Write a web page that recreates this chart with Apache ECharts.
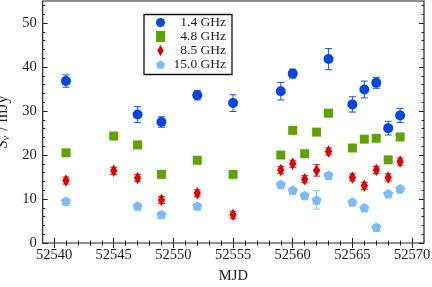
<!DOCTYPE html>
<html>
<head>
<meta charset="utf-8">
<script src="https://cdn.jsdelivr.net/npm/echarts@6/dist/echarts.min.js"></script>
<style>
html,body{margin:0;padding:0;background:#fff;}
#chart{width:432px;height:287px;}
</style>
</head>
<body>
<div id="chart"></div>
<script>
// ---- data ----
const seriesNames = ['1.4 GHz', '4.8 GHz', '8.5 GHz', '15.0 GHz'];

const mjd14 = [52541, 52547, 52549, 52552, 52555, 52559, 52560, 52563, 52565, 52566, 52567, 52568, 52569];
const flux14 = [36.8, 29.2, 27.5, 33.6, 31.8, 34.5, 38.5, 41.8, 31.5, 34.9, 36.4, 26.1, 29.0];
const err14 = [1.4, 1.8, 1.2, 1.1, 1.9, 2.0, 1.0, 2.4, 1.75, 1.9, 1.25, 1.55, 1.6];

const mjd48 = [52541, 52545, 52547, 52549, 52552, 52555, 52559, 52560, 52561, 52562, 52563, 52565, 52566, 52567, 52568, 52569];
const flux48 = [20.5, 24.3, 22.3, 15.6, 18.8, 15.6, 20.0, 25.6, 20.3, 25.2, 29.5, 21.6, 23.6, 23.8, 18.9, 24.1];
const err48 = [0.5, 0.5, 0.5, 0.5, 0.5, 0.5, 0.5, 0.5, 0.5, 0.5, 0.5, 0.5, 0.5, 0.5, 0.5, 0.5];

const mjd85 = [52541, 52545, 52547, 52549, 52552, 52555, 52559, 52560, 52561, 52562, 52563, 52565, 52566, 52567, 52568, 52569];
const flux85 = [14.2, 16.4, 14.8, 9.8, 11.3, 6.4, 16.6, 18.0, 14.5, 16.5, 20.8, 14.9, 13.0, 16.6, 14.9, 18.5];
const err85 = [0.8, 0.8, 0.8, 0.8, 0.8, 0.8, 0.8, 0.8, 0.8, 1.3, 0.8, 0.8, 0.8, 0.8, 0.8, 0.8];

const mjd150 = [52541, 52547, 52549, 52552, 52559, 52560, 52561, 52562, 52563, 52565, 52566, 52567, 52568, 52569];
const flux150 = [9.5, 8.4, 6.5, 8.4, 13.3, 12.0, 10.8, 9.8, 15.4, 9.3, 8.0, 3.6, 11.2, 12.3];
const err150 = [0.6, 0.6, 0.6, 0.6, 0.6, 0.6, 0.6, 2.1, 0.6, 0.6, 0.6, 0.6, 0.6, 0.6];

const xMajorTicks = [52540, 52545, 52550, 52555, 52560, 52565, 52570];
const xMinorTicks = [];
for (let d = 52540; d <= 52570; d++) xMinorTicks.push(d);
const yMajorTicks = [0, 10, 20, 30, 40, 50];
const yMinorTicks = [];
for (let v = 0; v <= 54; v += 2) yMinorTicks.push(v);

// ---- styling ----
const colors = ['#0046e2', '#5ea400', '#e00000', '#78bbff'];
const serif = '"Liberation Serif", "DejaVu Serif", serif';
const pentagon = 'path://M0,-1L0.951,-0.309L0.588,0.809L-0.588,0.809L-0.951,-0.309Z';
const diamond = 'path://M0,-1L0.58,0L0,1L-0.58,0Z';
const symbols = ['circle', 'rect', diamond, pentagon];
const sizes = [10, 9, 12.5, 10];

const xs = [mjd14, mjd48, mjd85, mjd150];
const ys = [flux14, flux48, flux85, flux150];
const es = [err14, err48, err85, err150];

const X_MIN = 52539.05, X_MAX = 52571, Y_MIN = 0, Y_MAX = 55;

function tickAxis(pos, ticks, len, isX, labels) {
  const a = {
    type: 'value', position: pos, min: isX ? X_MIN : Y_MIN, max: isX ? X_MAX : Y_MAX,
    axisLine: { show: false },
    splitLine: { show: false },
    axisTick: { show: true, inside: true, length: len, customValues: ticks,
      lineStyle: { color: '#222', width: 1 } },
    axisLabel: { show: false }
  };
  if (labels) {
    a.axisLabel = { show: true, customValues: ticks, fontFamily: serif, fontSize: 14.5,
      color: '#1a1a1a', margin: isX ? 5 : 6, formatter: v => String(v) };
  }
  return a;
}

const xAxes = [
  tickAxis('bottom', xMajorTicks, 5, true, true),
  tickAxis('bottom', xMinorTicks, 2.5, true, false),
  tickAxis('top', xMajorTicks, 5, true, false),
  tickAxis('top', xMinorTicks, 2.5, true, false)
];
xAxes[0].name = 'MJD';
xAxes[0].nameLocation = 'middle';
xAxes[0].nameGap = 26;
xAxes[0].nameTextStyle = { fontFamily: serif, fontSize: 14.5, color: '#1a1a1a' };

const yAxes = [
  tickAxis('left', yMajorTicks, 5, false, true),
  tickAxis('left', yMinorTicks, 2.5, false, false),
  tickAxis('right', yMajorTicks, 5, false, false),
  tickAxis('right', yMinorTicks, 2.5, false, false)
];
yAxes[0].name = '{i|S}{sub|ν}{n| / mJy}';
yAxes[0].nameLocation = 'middle';
yAxes[0].nameGap = 24;
yAxes[0].nameTextStyle = {
  fontFamily: serif, fontSize: 16, color: '#1a1a1a',
  rich: {
    i: { fontFamily: serif, fontSize: 16, fontStyle: 'italic', color: '#1a1a1a' },
    sub: { fontFamily: serif, fontSize: 10.5, fontStyle: 'italic', color: '#1a1a1a', padding: [7, 1, 0, 0] },
    n: { fontFamily: serif, fontSize: 16, color: '#1a1a1a' }
  }
};

const series = [];
seriesNames.forEach((name, k) => {
  const pts = xs[k].map((x, i) => [x, ys[k][i], es[k][i]]);
  series.push({
    name: name + ' err', type: 'custom', data: pts, z: 2,
    encode: { x: 0, y: 1 },
    renderItem: function (params, api) {
      const x = api.value(0), y = api.value(1), e = api.value(2);
      const lo = api.coord([x, y - e]);
      const hi = api.coord([x, y + e]);
      const h = 3.5;
      const st = { stroke: colors[k], lineWidth: 1.1, opacity: 0.85 };
      return {
        type: 'group',
        children: [
          { type: 'line', shape: { x1: lo[0], y1: lo[1], x2: hi[0], y2: hi[1] }, style: st },
          { type: 'line', shape: { x1: lo[0] - h, y1: lo[1], x2: lo[0] + h, y2: lo[1] }, style: st },
          { type: 'line', shape: { x1: hi[0] - h, y1: hi[1], x2: hi[0] + h, y2: hi[1] }, style: st }
        ]
      };
    },
    silent: true
  });
  series.push({
    name: name, type: 'scatter', z: 3,
    data: pts.map(p => [p[0], p[1]]),
    symbol: symbols[k], symbolSize: sizes[k], symbolKeepAspect: true,
    itemStyle: { color: colors[k], opacity: 1 }
  });
});

const chart = echarts.init(document.getElementById('chart'), null, { renderer: 'canvas' });
chart.setOption({
  animation: false,
  backgroundColor: '#fff',
  grid: { left: 42.7, right: 8, top: 1, bottom: 44, show: true, borderColor: '#222', borderWidth: 1.2,
    backgroundColor: 'transparent', containLabel: false, outerBoundsMode: 'none' },
  xAxis: xAxes,
  yAxis: yAxes,
  legend: {
    data: seriesNames.map((n, k) => ({ name: n, icon: symbols[k] })),
    orient: 'vertical', left: 144, top: 14.5,
    backgroundColor: '#fff', borderColor: '#111', borderWidth: 1.3,
    padding: [1, 6, 3, 12],
    itemWidth: 9, itemHeight: 11, itemGap: 0,
    formatter: n => '{r|' + n + '}',
    textStyle: {
      fontFamily: serif, fontSize: 13.5, color: '#1a1a1a',
      rich: { r: { width: 56, align: 'right', lineHeight: 14, fontFamily: serif, fontSize: 13.5, color: '#1a1a1a' } }
    }
  },
  series: series
});
</script>
</body>
</html>
